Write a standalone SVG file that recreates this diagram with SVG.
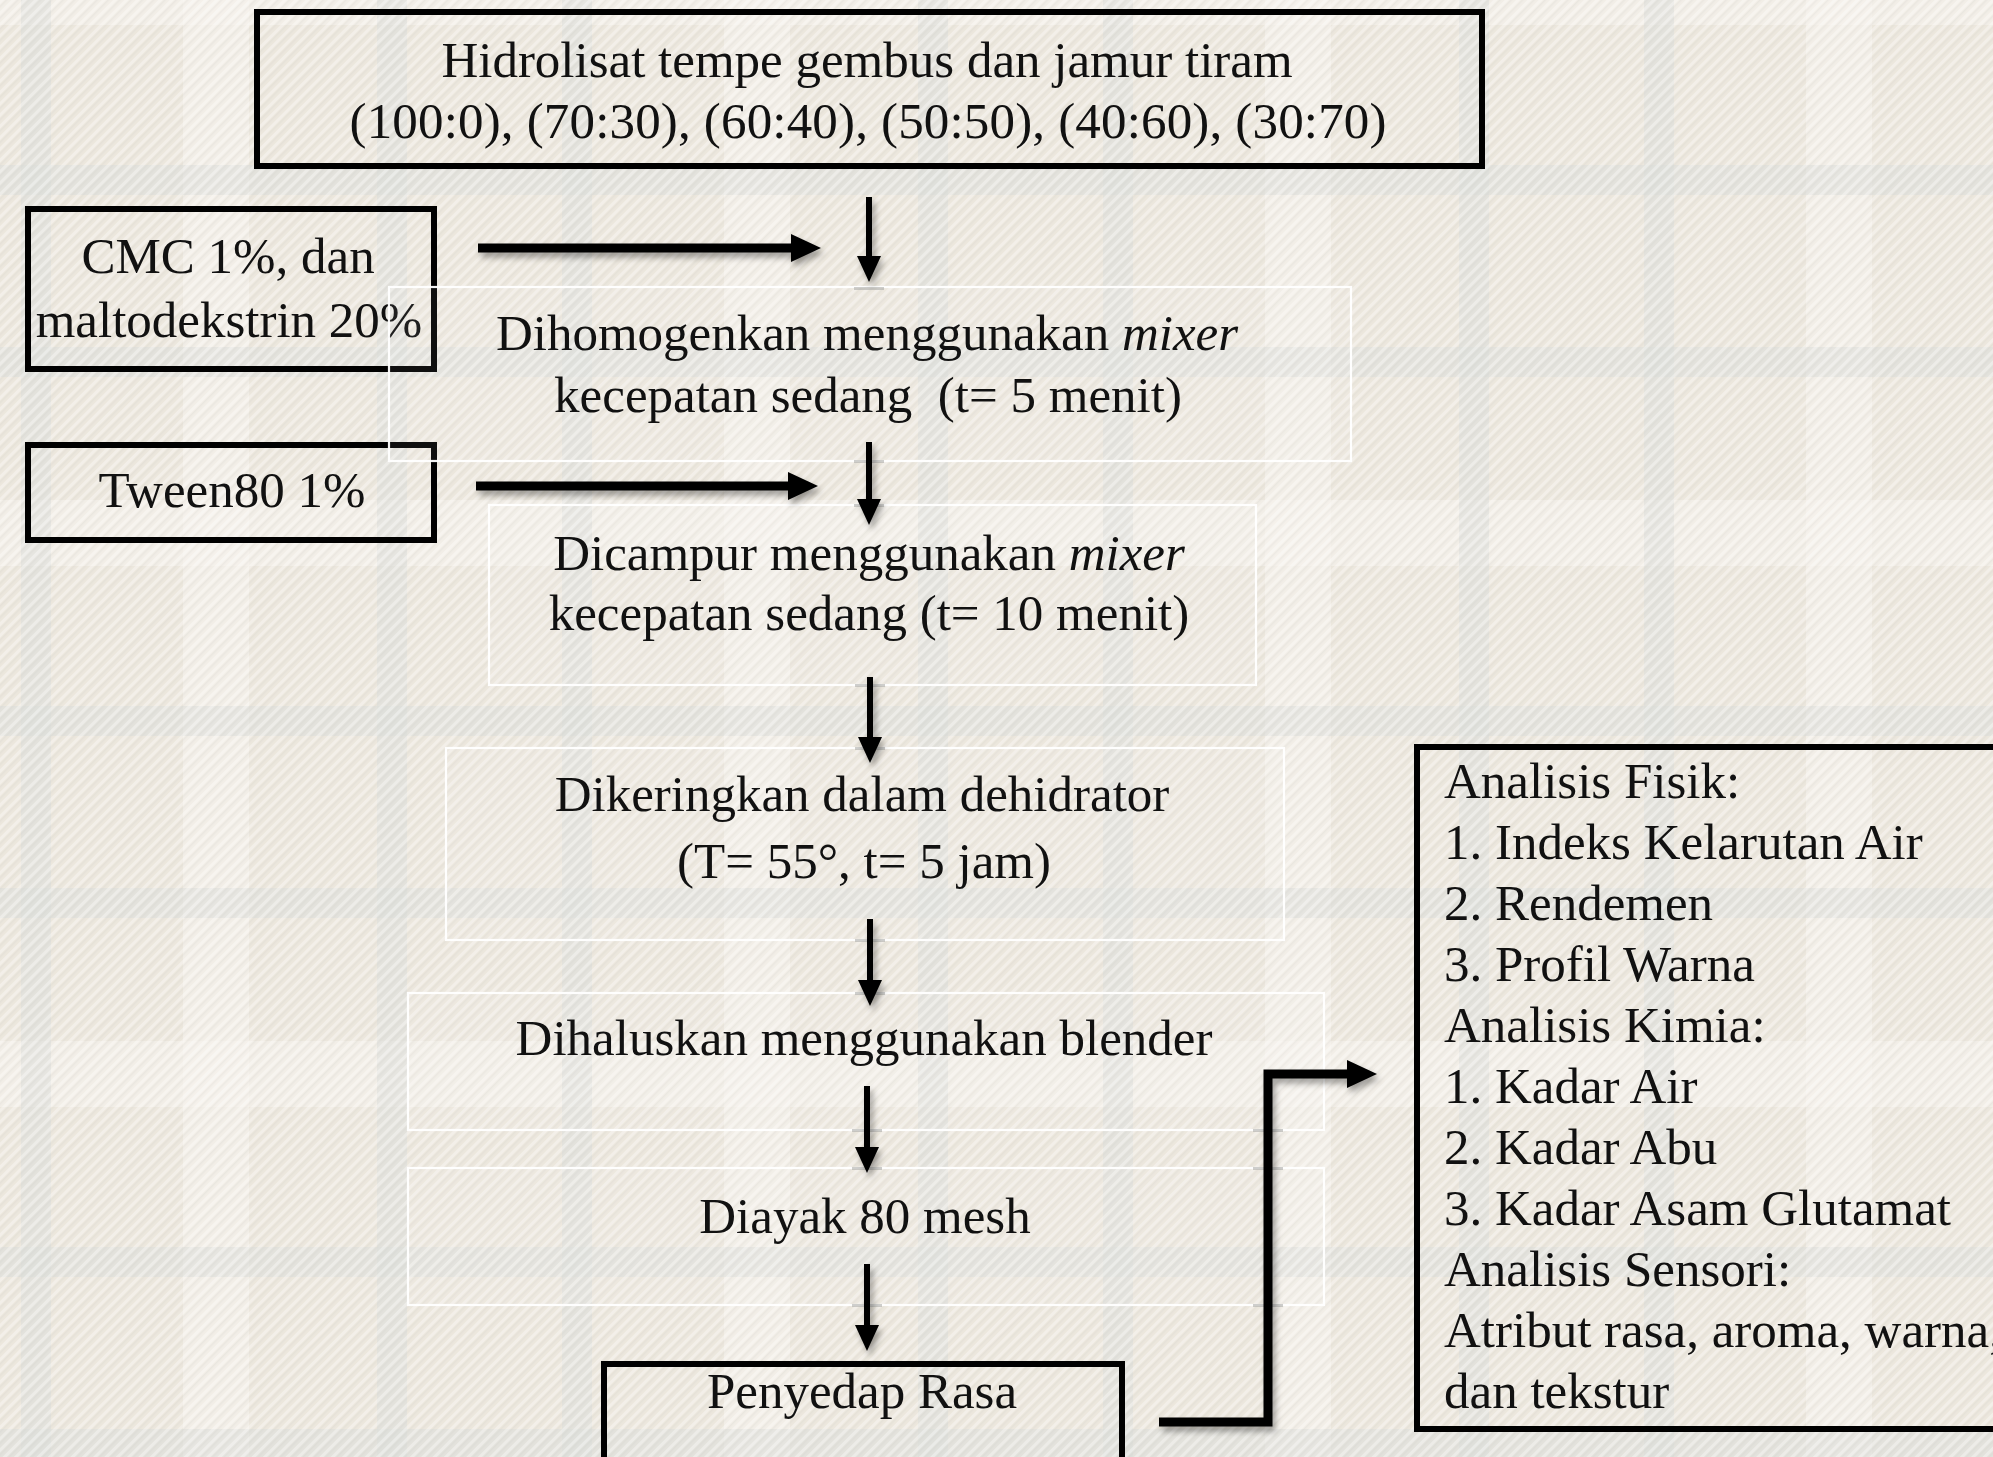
<svg xmlns="http://www.w3.org/2000/svg" width="1993" height="1457" viewBox="0 0 1993 1457">
<style>
.t{font-family:"Liberation Serif","Times New Roman",serif;font-size:51px;fill:#111;}
.m{text-anchor:middle;}
.bold{fill:none;stroke:#000;stroke-width:6;}
.faint{fill:#ffffff;fill-opacity:0.06;stroke:#ffffff;stroke-width:2.2;stroke-opacity:0.95;}
.gv{fill:#dcdfdb;opacity:0.55;}
.lv{fill:#f7f4ef;opacity:0.55;}
.tick{fill:#aeaeaa;opacity:0.6;}
.thin{stroke:#000;stroke-width:6;fill:none;}
.thick{stroke:#000;stroke-width:9;fill:none;}
</style>
<defs>
<pattern id="hatch" width="8" height="8" patternUnits="userSpaceOnUse" patternTransform="rotate(45)">
<rect x="0" y="0" width="3" height="8" fill="#ffffff" opacity="0.35"/>
<rect x="4" y="0" width="1.5" height="8" fill="#c9c8c0" opacity="0.18"/>
</pattern>
<marker id="hv" viewBox="0 0 26 24" markerWidth="26" markerHeight="24" refX="1" refY="12" orient="auto" markerUnits="userSpaceOnUse">
<path d="M0,0 L26,12 L0,24 Z" fill="#000"/>
</marker>
<marker id="hh" viewBox="0 0 30 28" markerWidth="30" markerHeight="28" refX="1" refY="14" orient="auto" markerUnits="userSpaceOnUse">
<path d="M0,0 L30,14 L0,28 Z" fill="#000"/>
</marker>
<filter id="sh" x="-20%" y="-20%" width="140%" height="140%">
<feDropShadow dx="3" dy="5" stdDeviation="3" flood-color="#000" flood-opacity="0.35"/>
</filter>
</defs>

<g id="background">
<rect x="0" y="0" width="1993" height="1457" fill="#ece7dd"/>
<rect class="lv" x="183" y="0" width="66" height="1457"/>
<rect class="lv" x="724" y="0" width="66" height="1457"/>
<rect class="lv" x="1265" y="0" width="66" height="1457"/>
<rect class="lv" x="1806" y="0" width="66" height="1457"/>
<rect class="lv" x="0" y="0" width="1993" height="25"/>
<rect class="lv" x="0" y="500" width="1993" height="66"/>
<rect class="lv" x="0" y="1041" width="1993" height="66"/>
<rect class="gv" x="21" y="0" width="30" height="1457"/>
<rect class="gv" x="377" y="0" width="30" height="1457"/>
<rect class="gv" x="562" y="0" width="30" height="1457"/>
<rect class="gv" x="918" y="0" width="30" height="1457"/>
<rect class="gv" x="1103" y="0" width="30" height="1457"/>
<rect class="gv" x="1459" y="0" width="30" height="1457"/>
<rect class="gv" x="1644" y="0" width="30" height="1457"/>
<rect class="gv" x="0" y="165" width="1993" height="30"/>
<rect class="gv" x="0" y="347" width="1993" height="30"/>
<rect class="gv" x="0" y="706" width="1993" height="30"/>
<rect class="gv" x="0" y="888" width="1993" height="30"/>
<rect class="gv" x="0" y="1247" width="1993" height="30"/>
<rect class="gv" x="0" y="1429" width="1993" height="30"/>
<rect x="0" y="0" width="1993" height="1457" fill="url(#hatch)"/>
</g>

<g id="n1">
<rect class="bold" x="257" y="12" width="1225" height="154"/>
<text class="t m" x="867" y="77">Hidrolisat tempe gembus dan jamur tiram</text>
<text class="t m" x="868" y="138" textLength="1037" lengthAdjust="spacing">(100:0), (70:30), (60:40), (50:50), (40:60), (30:70)</text>
</g>

<g id="n-cmc">
<rect class="bold" x="28" y="209" width="406" height="160"/>
<text class="t m" x="228" y="273">CMC 1%, dan</text>
<text class="t m" x="229" y="337">maltodekstrin 20%</text>
</g>

<g id="n-tween">
<rect class="bold" x="28" y="445" width="406" height="95"/>
<text class="t m" x="232" y="507">Tween80 1%</text>
</g>

<g id="n2">
<rect class="faint" x="389" y="287" width="962" height="174"/>
<text class="t m" x="867" y="350">Dihomogenkan menggunakan <tspan font-style="italic">mixer</tspan></text>
<text class="t m" x="868" y="412" xml:space="preserve">kecepatan sedang  (t= 5 menit)</text>
</g>

<g id="n3">
<rect class="faint" x="489" y="505" width="767" height="180"/>
<text class="t m" x="869" y="570">Dicampur menggunakan <tspan font-style="italic">mixer</tspan></text>
<text class="t m" x="869" y="630">kecepatan sedang (t= 10 menit)</text>
</g>

<g id="n4">
<rect class="faint" x="446" y="748" width="838" height="192"/>
<text class="t m" x="862" y="811">Dikeringkan dalam dehidrator</text>
<text class="t m" x="864" y="878">(T= 55°, t= 5 jam)</text>
</g>

<g id="n5">
<rect class="faint" x="408" y="993" width="916" height="137"/>
<text class="t m" x="864" y="1055">Dihaluskan menggunakan blender</text>
</g>

<g id="n6">
<rect class="faint" x="408" y="1168" width="916" height="137"/>
<text class="t m" x="865" y="1233">Diayak 80 mesh</text>
</g>

<g id="n7">
<rect class="bold" x="604" y="1364" width="518" height="200"/>
<text class="t m" x="862" y="1408">Penyedap Rasa</text>
</g>

<g id="n8">
<rect class="bold" x="1417" y="747" width="700" height="682"/>
<text class="t" x="1444" y="798">Analisis Fisik:</text>
<text class="t" x="1444" y="859">1. Indeks Kelarutan Air</text>
<text class="t" x="1444" y="920">2. Rendemen</text>
<text class="t" x="1444" y="981">3. Profil Warna</text>
<text class="t" x="1444" y="1042">Analisis Kimia:</text>
<text class="t" x="1444" y="1103">1. Kadar Air</text>
<text class="t" x="1444" y="1164">2. Kadar Abu</text>
<text class="t" x="1444" y="1225">3. Kadar Asam Glutamat</text>
<text class="t" x="1444" y="1286">Analisis Sensori:</text>
<text class="t" x="1444" y="1347">Atribut rasa, aroma, warna,</text>
<text class="t" x="1444" y="1408">dan tekstur</text>
</g>

<g id="ticks">
<rect class="tick" x="854" y="287" width="30" height="3"/>
<rect class="tick" x="854" y="460" width="30" height="3"/>
<rect class="tick" x="854" y="504" width="30" height="3"/>
<rect class="tick" x="855" y="684" width="30" height="3"/>
<rect class="tick" x="855" y="747" width="30" height="3"/>
<rect class="tick" x="855" y="939" width="30" height="3"/>
<rect class="tick" x="855" y="992" width="30" height="3"/>
<rect class="tick" x="852" y="1129" width="30" height="3"/>
<rect class="tick" x="852" y="1167" width="30" height="3"/>
<rect class="tick" x="852" y="1304" width="30" height="3"/>
<rect class="tick" x="1253" y="1129" width="30" height="3"/>
<rect class="tick" x="1253" y="1167" width="30" height="3"/>
<rect class="tick" x="1253" y="1304" width="30" height="3"/>
</g>

<g id="connectors" filter="url(#sh)">
<line class="thin" x1="869" y1="197" x2="869" y2="257" marker-end="url(#hv)"/>
<line class="thin" x1="869" y1="442" x2="869" y2="500" marker-end="url(#hv)"/>
<line class="thin" x1="870" y1="677" x2="870" y2="738" marker-end="url(#hv)"/>
<line class="thin" x1="870" y1="919" x2="870" y2="981" marker-end="url(#hv)"/>
<line class="thin" x1="867" y1="1086" x2="867" y2="1148" marker-end="url(#hv)"/>
<line class="thin" x1="867" y1="1264" x2="867" y2="1326" marker-end="url(#hv)"/>
<line class="thick" x1="478" y1="248" x2="792" y2="248" marker-end="url(#hh)"/>
<line class="thick" x1="476" y1="486" x2="789" y2="486" marker-end="url(#hh)"/>
<path class="thick" d="M1159,1422 H1268 V1074 H1348" stroke-linejoin="miter" marker-end="url(#hh)"/>
</g>
</svg>
